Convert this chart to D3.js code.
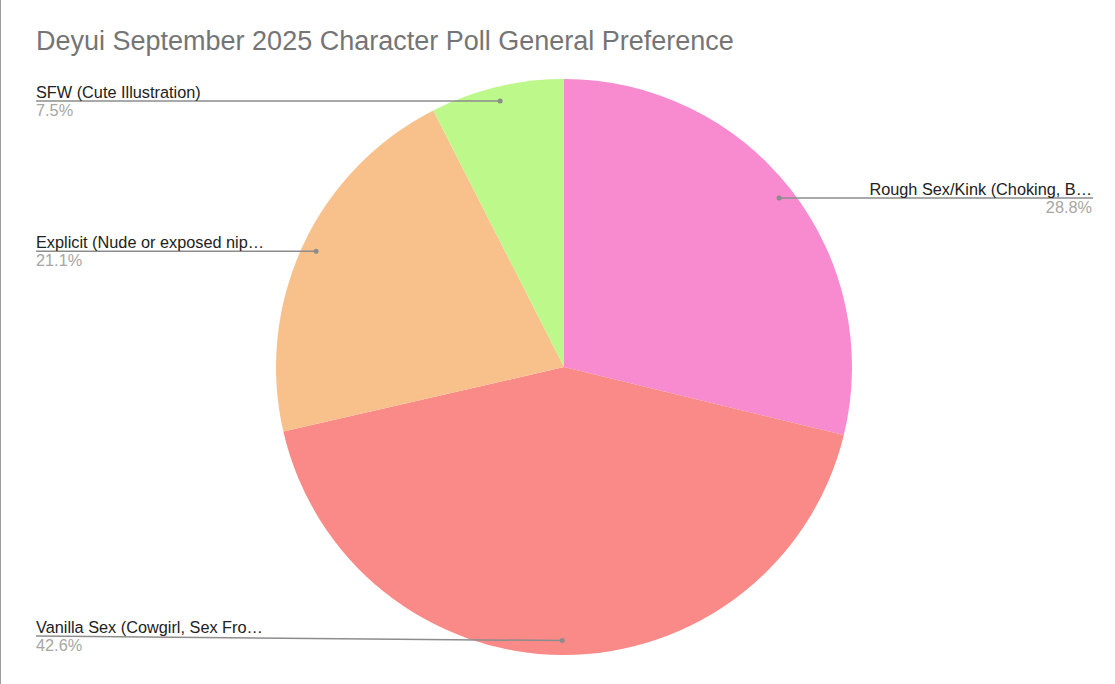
<!DOCTYPE html>
<html lang="en">
<head>
  <meta charset="UTF-8" />
  <title>Deyui September 2025 Character Poll General Preference</title>
  <script src="https://d3js.org/d3.v7.min.js"></script>
  <style>
    html, body { margin: 0; padding: 0; background: #fff; }
    #chart { width: 1115px; height: 684px; }
    text { font-family: "Liberation Sans", Arial, sans-serif; }
  </style>
</head>
<body>
  <div id="chart"></div>
  <script>
    const title = "Deyui September 2025 Character Poll General Preference";
    const categories = [
      "Rough Sex/Kink (Choking, B…",
      "Vanilla Sex (Cowgirl, Sex Fro…",
      "Explicit (Nude or exposed nip…",
      "SFW (Cute Illustration)"
    ];
    const shares = [28.8, 42.6, 21.1, 7.5];
    const colors = ["#f88ad0", "#f98a88", "#f8c18b", "#bdf88a"];

    const width = 1115, height = 684;
    const cx = 564, cy = 367, radius = 288;

    const svg = d3.select("#chart").append("svg").attr("width", width).attr("height", height);

    // thin frame on the left, as in the screenshot
    svg.append("line").attr("x1", 0.5).attr("x2", 0.5).attr("y1", 0).attr("y2", height)
      .attr("stroke", "#9e9e9e").attr("stroke-width", 1);

    svg.append("text").attr("x", 36).attr("y", 50)
      .text(title).style("font-size", "27px").style("fill", "#757575");

    const data = categories.map((c, i) => ({ name: c, value: shares[i], color: colors[i] }));
    const pie = d3.pie().value(d => d.value).sort(null);
    const arcs = pie(data);
    const arc = d3.arc().innerRadius(0).outerRadius(radius);
    const dotArc = d3.arc().innerRadius(radius * 0.95).outerRadius(radius * 0.95);

    const g = svg.append("g").attr("transform", `translate(${cx},${cy})`);
    g.selectAll("path").data(arcs).enter().append("path")
      .attr("d", arc).attr("fill", d => d.data.color);

    const labels = svg.append("g");
    arcs.forEach(a => {
      const [dx, dy] = dotArc.centroid(a);
      const px = cx + dx, py = cy + dy;
      const left = px < cx + 1;
      const lineY = Math.min(py, 636);
      const tx = left ? 36 : 1093;
      labels.append("line")
        .attr("x1", tx).attr("y1", lineY).attr("x2", px).attr("y2", py)
        .attr("stroke", "#8c8c8c").attr("stroke-width", 1.5);
      labels.append("circle").attr("cx", px).attr("cy", py).attr("r", 2.5).attr("fill", "#8c8c8c");
      labels.append("text").attr("x", left ? tx : tx - 1).attr("y", lineY - 3)
        .attr("text-anchor", left ? "start" : "end")
        .text(a.data.name).style("font-size", "16.3px").style("fill", "#222");
      labels.append("text").attr("x", left ? tx : tx - 1).attr("y", lineY + 15)
        .attr("text-anchor", left ? "start" : "end")
        .text(d3.format(".1f")(a.data.value) + "%").style("font-size", "16.3px").style("fill", "#a6a6a6");
    });
  </script>
</body>
</html>
